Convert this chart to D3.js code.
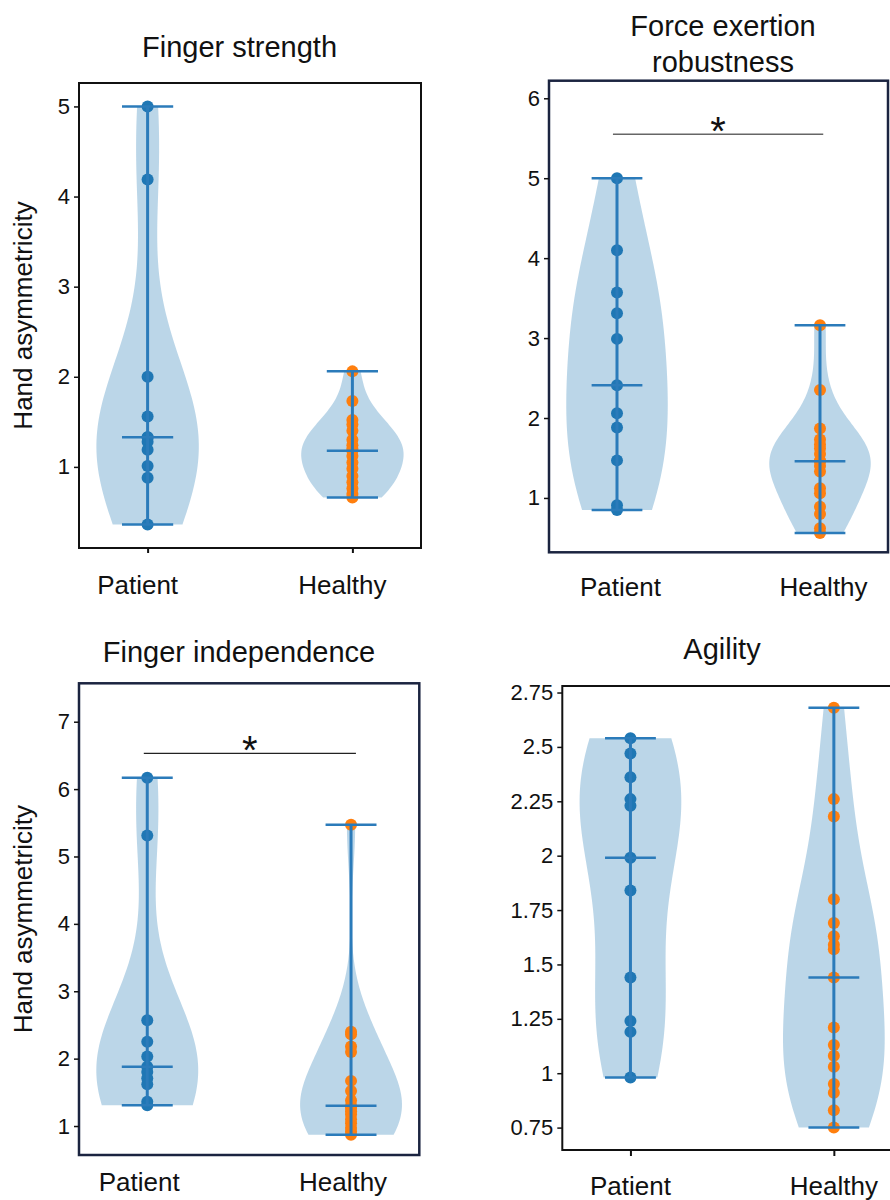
<!DOCTYPE html>
<html>
<head>
<meta charset="utf-8">
<script src="https://cdn.jsdelivr.net/npm/d3@7/dist/d3.min.js"></script>
<style>
  html, body { margin: 0; padding: 0; background: #fff; }
  svg { display: block; font-family: "Liberation Sans", Arial, Helvetica, sans-serif; }
</style>
</head>
<body>
<svg id="chart" width="890" height="1200"></svg>
<script>
// ---------------- DATA ----------------
const categories = ["Patient", "Healthy"];

const titleFingerStrength = ["Finger strength"];
const titleForce = ["Force exertion", "robustness"];
const titleIndependence = ["Finger independence"];
const titleAgility = ["Agility"];
const yAxisLabel = "Hand asymmetricity";

// Finger strength
const fsPatient = [5.0, 4.19, 2.0, 1.56, 1.33, 1.33, 1.28, 1.19, 1.01, 0.88, 0.36];
const fsHealthy = [2.06, 1.73, 1.52, 1.47, 1.40, 1.30, 1.24, 1.20, 1.18, 1.12, 1.05, 0.98, 0.90, 0.83, 0.76, 0.70, 0.66];
const fsTicks = [1, 2, 3, 4, 5];

// Force exertion robustness
const ferPatient = [5.0, 4.10, 3.57, 3.31, 2.99, 2.41, 2.06, 1.88, 1.47, 0.91, 0.85];
const ferHealthy = [3.16, 2.35, 1.87, 1.73, 1.67, 1.62, 1.55, 1.47, 1.46, 1.40, 1.33, 1.12, 1.06, 0.89, 0.80, 0.62, 0.56];
const ferTicks = [1, 2, 3, 4, 5, 6];

// Finger independence
const fiPatient = [6.17, 5.31, 2.57, 2.25, 2.03, 1.88, 1.80, 1.71, 1.62, 1.36, 1.31];
const fiHealthy = [5.47, 2.40, 2.36, 2.18, 2.10, 1.67, 1.52, 1.38, 1.30, 1.27, 1.22, 1.17, 1.10, 1.04, 0.97, 0.92, 0.87];
const fiTicks = [1, 2, 3, 4, 5, 6, 7];

// Agility
const agPatient = [2.54, 2.47, 2.36, 2.26, 2.23, 1.99, 1.84, 1.44, 1.24, 1.19, 0.98];
const agHealthy = [2.68, 2.26, 2.18, 1.80, 1.69, 1.63, 1.59, 1.57, 1.44, 1.21, 1.13, 1.08, 1.03, 0.95, 0.91, 0.83, 0.75];
const agTicks = [0.75, 1, 1.25, 1.5, 1.75, 2, 2.25, 2.5, 2.75];

// significance marker (both panels marked "*")
const sigLabel = "*";

// ---------------- STYLE / LAYOUT ----------------
const C_LINE = "#2b7bba";
const C_FILL = "#1f77b4";
const C_PAT = "#1f77b4";
const C_HEA = "#ff7f0e";

const panels = [
  { title: titleFingerStrength, groups: [fsPatient, fsHealthy], ticks: fsTicks,
    L: 79, R: 421, T: 83, B: 548, yDom: [0.10, 5.26],
    frame: "#111", frameW: 2, xTick: 5, titleX: 239.5, titleY: [56.7],
    labelY: 594, labelDx: -10, ylabel: true, sig: null },
  { title: titleForce, groups: [ferPatient, ferHealthy], ticks: ferTicks,
    L: 549, R: 888, T: 80.7, B: 552.3, yDom: [0.32, 6.22],
    frame: "#1b2440", frameW: 2.5, xTick: 0, titleX: 723, titleY: [35.7, 71.7],
    labelY: 596, labelDx: 3.5, ylabel: false,
    sig: { x1: 0.98, x2: 2.016, y: 5.55, color: "#666", w: 1.6 } },
  { title: titleIndependence, groups: [fiPatient, fiHealthy], ticks: fiTicks,
    L: 79, R: 419.3, T: 683.3, B: 1155, yDom: [0.57, 7.57],
    frame: "#1b2440", frameW: 2.5, xTick: 0, titleX: 239, titleY: [662],
    labelY: 1191, labelDx: -8, ylabel: true,
    sig: { x1: 0.983, x2: 2.024, y: 6.53, color: "#222", w: 1.1 } },
  { title: titleAgility, groups: [agPatient, agHealthy], ticks: agTicks,
    L: 562.3, R: 902, T: 686, B: 1150, yDom: [0.647, 2.78],
    frame: "#111", frameW: 2, xTick: 6, titleX: 722, titleY: [659],
    labelY: 1195, labelDx: 0, ylabel: false, sig: null }
];

const svg = d3.select("#chart");
svg.append("rect").attr("width", 890).attr("height", 1200).attr("fill", "#fff");

function kde(data, n) {
  const sd = d3.deviation(data);
  const bw = sd * Math.pow(data.length, -0.2);
  const lo = d3.min(data), hi = d3.max(data);
  return d3.range(n).map(i => {
    const v = lo + (hi - lo) * i / (n - 1);
    const d = d3.sum(data, x => Math.exp(-0.5 * ((v - x) / bw) ** 2));
    return [v, d];
  });
}

panels.forEach(p => {
  const g = svg.append("g");
  const x = d3.scaleLinear().domain([0.665, 2.335]).range([p.L, p.R]);
  const y = d3.scaleLinear().domain(p.yDom).range([p.B, p.T]);

  // violins
  p.groups.forEach((data, i) => {
    const pos = i + 1;
    const dens = kde(data, 100);
    const mx = d3.max(dens, d => d[1]);
    const area = d3.area()
      .x0(d => x(pos - 0.25 * d[1] / mx))
      .x1(d => x(pos + 0.25 * d[1] / mx))
      .y(d => y(d[0]));
    g.append("path").attr("d", area(dens))
      .attr("fill", C_FILL).attr("fill-opacity", 0.3).attr("stroke", "none");
  });

  // points
  p.groups.forEach((data, i) => {
    const pos = i + 1;
    g.selectAll(null).data(data).enter().append("circle")
      .attr("cx", x(pos)).attr("cy", d => y(d)).attr("r", 6)
      .attr("fill", i === 0 ? C_PAT : C_HEA);
  });

  // extrema + median lines
  p.groups.forEach((data, i) => {
    const pos = i + 1;
    const lo = d3.min(data), hi = d3.max(data), md = d3.median(data);
    g.append("line").attr("x1", x(pos)).attr("x2", x(pos))
      .attr("y1", y(lo)).attr("y2", y(hi))
      .attr("stroke", C_LINE).attr("stroke-width", 3);
    [lo, hi, md].forEach(v => {
      g.append("line").attr("x1", x(pos - 0.125)).attr("x2", x(pos + 0.125))
        .attr("y1", y(v)).attr("y2", y(v))
        .attr("stroke", C_LINE).attr("stroke-width", 2.5);
    });
  });

  // significance
  if (p.sig) {
    g.append("line").attr("x1", x(p.sig.x1)).attr("x2", x(p.sig.x2))
      .attr("y1", y(p.sig.y)).attr("y2", y(p.sig.y))
      .attr("stroke", p.sig.color).attr("stroke-width", p.sig.w);
    g.append("text").attr("x", x((p.sig.x1 + p.sig.x2) / 2)).attr("y", y(p.sig.y) + 10.5)
      .attr("text-anchor", "middle").attr("font-size", 40).attr("fill", "#111")
      .text(sigLabel);
  }

  // frame
  g.append("rect").attr("x", p.L).attr("y", p.T)
    .attr("width", p.R - p.L).attr("height", p.B - p.T)
    .attr("fill", "none").attr("stroke", p.frame).attr("stroke-width", p.frameW);

  // y axis
  const ya = g.append("g").attr("transform", `translate(${p.L},0)`)
    .call(d3.axisLeft(y).tickValues(p.ticks).tickSize(5).tickPadding(4).tickFormat(d => String(d)));
  ya.select(".domain").remove();
  ya.selectAll(".tick line").attr("stroke", "#111").attr("stroke-width", 1.5);
  ya.selectAll(".tick text").attr("font-size", 22).attr("fill", "#111")
    .attr("font-family", "'Liberation Sans', Arial, sans-serif");

  // x axis
  const xa = g.append("g").attr("transform", `translate(0,${p.B})`)
    .call(d3.axisBottom(x).tickValues([1, 2]).tickSize(p.xTick).tickFormat(""));
  xa.select(".domain").remove();
  xa.selectAll(".tick line").attr("stroke", "#111").attr("stroke-width", 2);
  categories.forEach((c, i) => {
    g.append("text").attr("x", x(i + 1) + p.labelDx).attr("y", p.labelY)
      .attr("text-anchor", "middle").attr("font-size", 26).attr("fill", "#111")
      .text(c);
  });

  // title
  p.title.forEach((t, k) => {
    g.append("text").attr("x", p.titleX).attr("y", p.titleY[k])
      .attr("text-anchor", "middle").attr("font-size", 29).attr("fill", "#111")
      .text(t);
  });

  // y label
  if (p.ylabel) {
    const cy = (p.T + p.B) / 2;
    g.append("text").attr("transform", `translate(32,${cy}) rotate(-90)`)
      .attr("text-anchor", "middle").attr("font-size", 26).attr("fill", "#111")
      .text(yAxisLabel);
  }
});
</script>
</body>
</html>
